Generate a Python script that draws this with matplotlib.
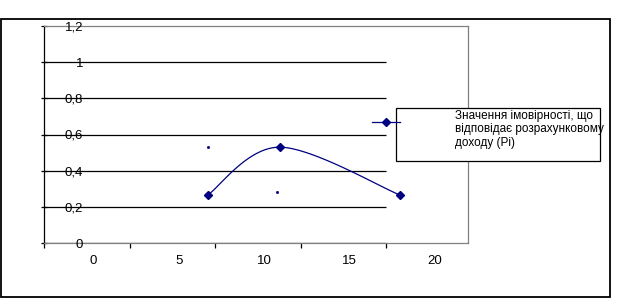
import numpy as np
import matplotlib
matplotlib.use("Agg")
import matplotlib.pyplot as plt
from matplotlib.patches import Rectangle
from matplotlib.lines import Line2D
import matplotlib.transforms as mtransforms

plt.rcParams['font.family'] = ['Liberation Sans', 'DejaVu Sans']

# ---- data ----
income = [6.7, 10.9, 17.95]
probability = [0.265, 0.53, 0.265]
stray_x = [6.7, 10.75]
stray_y = [0.53, 0.28]
x_tick_labels = [0, 5, 10, 15, 20]
y_tick_values = [0, 0.2, 0.4, 0.6, 0.8, 1.0, 1.2]
y_tick_labels = ["0", "0,2", "0,4", "0,6", "0,8", "1", "1,2"]
legend_label = "Значення імовірності, що\nвідповідає розрахунковому\nдоходу (Pi)"

NAVY = "#000080"
GRAY = "#808080"
W, H = 625, 298


def fx(px):
    return px / W


def fy(py):
    return 1 - py / H


def smooth(xs, ys, n=40):
    """Excel-like smoothed line (Catmull-Rom / Bezier) through points."""
    pts = np.column_stack([xs, ys]).astype(float)
    ext = np.vstack([pts[0], pts, pts[-1]])
    out = []
    t = np.linspace(0, 1, n)
    for i in range(1, len(ext) - 2):
        p0, p1, p2, p3 = ext[i - 1], ext[i], ext[i + 1], ext[i + 2]
        c1 = p1 + (p2 - p0) / 6
        c2 = p2 - (p3 - p1) / 6
        seg = ((1 - t) ** 3)[:, None] * p1 + (3 * (1 - t) ** 2 * t)[:, None] * c1 \
            + (3 * (1 - t) * t ** 2)[:, None] * c2 + (t ** 3)[:, None] * p2
        out.append(seg if i == 1 else seg[1:])
    s = np.vstack(out)
    return s[:, 0], s[:, 1]


fig = plt.figure(figsize=(W / 100, H / 100), dpi=100)
fig.patch.set_facecolor("white")

# outer chart frame
fig.patches.append(Rectangle((fx(0.8), fy(296.5)), fx(610) - fx(0.8), fy(18.5) - fy(296.5),
                             transform=fig.transFigure, fill=False, edgecolor="black",
                             linewidth=1.3, zorder=0))

ax_left, ax_right, ax_top, ax_bottom = 44, 468, 26, 243
ax = fig.add_axes([fx(ax_left), fy(ax_bottom), fx(ax_right) - fx(ax_left), fy(ax_top) - fy(ax_bottom)])

tick0 = -2.87
axis_end = 17.13
ax.set_xlim(tick0, 21.92)
ax.set_ylim(0, 1.2)

for s in ["top", "right", "bottom"]:
    ax.spines[s].set_color(GRAY)
    ax.spines[s].set_linewidth(0.9)
ax.spines["left"].set_color("black")
ax.spines["left"].set_linewidth(0.9)

# gridlines and axis line (stop at last major tick)
ax.hlines(y_tick_values[:-1], tick0, axis_end, colors="black", linewidth=0.9, zorder=1)

# x ticks: major tick marks (no labels), minor ticks carrying labels
ax.set_xticks([tick0 + 5 * k for k in range(5)])
ax.set_xticklabels([])
ax.set_xticks(x_tick_labels, minor=True)
ax.set_xticklabels([str(v) for v in x_tick_labels], minor=True)
ax.tick_params(axis="x", which="major", direction="out", length=3.6, width=0.9, color="black")
ax.tick_params(axis="x", which="minor", length=0, pad=8.8, labelsize=9.5)

ax.set_yticks(y_tick_values)
ax.set_yticklabels([])
ax.tick_params(axis="y", direction="inout", length=4.5, width=0.9, color="black")

ytr = mtransforms.offset_copy(ax.get_yaxis_transform(), fig=fig, x=0, y=-1.5, units="dots")
for v, lab in zip(y_tick_values, y_tick_labels):
    ax.text((83 - ax_left) / (ax_right - ax_left), v, lab, transform=ytr, ha="right",
            va="center", fontsize=9.5, color="black", zorder=3)

# data
sx, sy = smooth(income, probability)
ax.plot(sx, sy, color=NAVY, linewidth=0.9, zorder=4, clip_on=False)
ax.plot(income, probability, linestyle="none", marker="D", markersize=3.8, color=NAVY,
        zorder=5, clip_on=False)
ax.plot(stray_x, stray_y, linestyle="none", marker="s", markersize=1.0, color=NAVY, zorder=5)

# legend box
fig.patches.append(Rectangle((fx(396), fy(161)), fx(600) - fx(396), fy(108) - fy(161),
                             transform=fig.transFigure, facecolor="white", edgecolor="black",
                             linewidth=0.9, zorder=6))
handle = Line2D([], [], color=NAVY, linewidth=0.9, marker="D", markersize=3.8)
leg = fig.legend([handle], [legend_label], loc="upper left",
                 bbox_to_anchor=(fx(372), fy(109.5)), bbox_transform=fig.transFigure,
                 frameon=False, fontsize=8.5, borderpad=0, borderaxespad=0,
                 handlelength=2.37, handletextpad=4.66, labelspacing=0)
leg.set_zorder(7)

# raise the legend key to sit beside the first/second text line (as in the original)
for art in leg.findobj(Line2D):
    yd = np.asarray(art.get_ydata(), dtype=float)
    if art.get_linestyle() in ("None", "none", ""):
        art.set_ydata(yd + 3.6)   # marker
    else:
        art.set_ydata(yd + 5.8)   # line

fig.savefig("out.png", dpi=100)
